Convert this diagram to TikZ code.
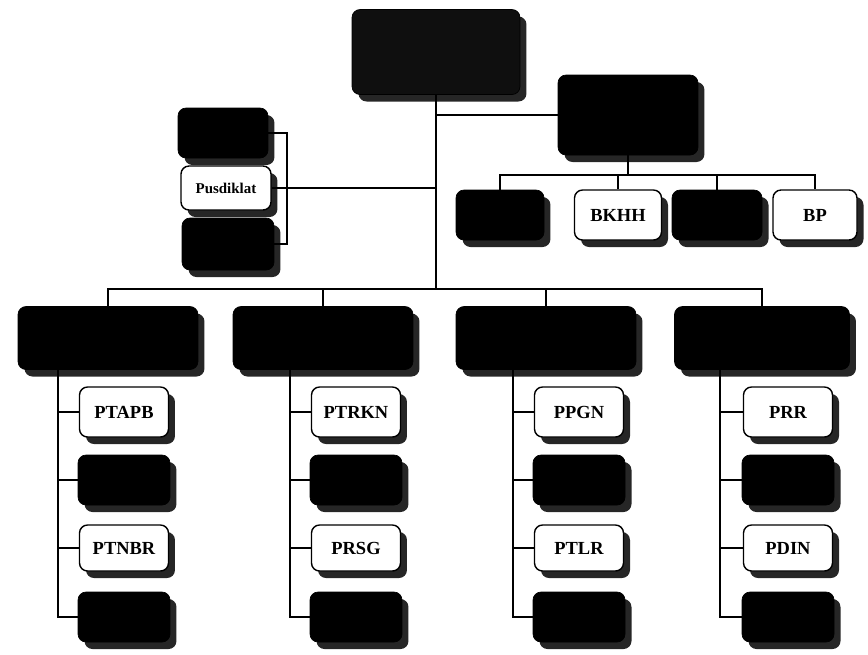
\documentclass[tikz,border=0pt]{standalone}
\usepackage{fontspec}
\setmainfont{Liberation Serif}
\usetikzlibrary{shadows}
\begin{document}
\begin{tikzpicture}[x=0.02cm,y=-0.02cm,
    every node/.style={font=\bfseries\fontsize{10.5}{12}\selectfont},
    darkbox/.style={draw=black,fill=black,rounded corners=0.16cm,inner sep=0pt,
      drop shadow={shadow xshift=0.13cm,shadow yshift=-0.14cm,fill=black!85,opacity=1}},
    lightbox/.style={darkbox,fill=white,line width=0.8pt},
    link/.style={line width=0.9pt}]
  \useasboundingbox (0,0) rectangle (868,654);
  % head and upper right board
  \node[darkbox,fill=black!94,minimum width=3.36cm,minimum height=1.7cm] (top) at (436,52) {};
  \node[darkbox,minimum width=2.8cm,minimum height=1.6cm] (rb) at (628,115) {};
  \node[darkbox,minimum width=1.76cm,minimum height=1cm] (rc1) at (500,215) {};
  \node[lightbox,minimum width=1.74cm,minimum height=1cm] (rc2) at (618,215) {BKHH};
  \node[darkbox,minimum width=1.8cm,minimum height=1cm] (rc3) at (717,215) {};
  \node[lightbox,minimum width=1.68cm,minimum height=1cm] (rc4) at (815,215) {BP};
  % left staff group
  \node[darkbox,minimum width=1.8cm,minimum height=1cm] (pk1) at (223,133) {};
  \node[lightbox,minimum width=1.8cm,minimum height=0.88cm,font=\bfseries\fontsize{8.5}{10}\selectfont] (pk2) at (226,188) {Pusdiklat};
  \node[darkbox,minimum width=1.84cm,minimum height=1.04cm] (pk3) at (228,244) {};
  % main groups
  \node[darkbox,minimum width=3.6cm,minimum height=1.26cm] (ga) at (108,338) {};
  \node[darkbox,minimum width=3.6cm,minimum height=1.26cm] (gb) at (323,338) {};
  \node[darkbox,minimum width=3.6cm,minimum height=1.26cm] (gc) at (546,338) {};
  \node[darkbox,minimum width=3.5cm,minimum height=1.26cm] (gd) at (762,338) {};

  \coordinate (bus) at (436,289);
  \draw[link] (top.south) -- (bus);
  \draw[link] (ga.north) |- (bus) -| (gd.north);
  \draw[link] (gb.north) -- (gb.north |- bus);
  \draw[link] (gc.north) -- (gc.north |- bus);

  \coordinate (rbus) at (628,175);
  \draw[link] (top.south |- rb.west) -- (rb.west);
  \draw[link] (rb.south) -- (rbus);
  \draw[link] (rc1.north) |- (rbus) -| (rc4.north);
  \draw[link] (rc2.north) -- (rc2.north |- rbus);
  \draw[link] (rc3.north) -- (rc3.north |- rbus);

  \coordinate (brk) at (287,244);
  \draw[link] (pk1.east) -| (brk) -- (pk3.east);
  \draw[link] (pk2.east) -- (top.south |- pk2.east);

  % units under each group
  \foreach \g/\cx/\bx/\ta/\tc in {a/58/124/PTAPB/PTNBR, b/290/356/PTRKN/PRSG,
      c/513/579/PPGN/PTLR, d/720/788/PRR/PDIN} {
    \node[lightbox,minimum width=1.78cm,minimum height=1cm] (\g1) at (\bx,412) {\ta};
    \node[darkbox,minimum width=1.84cm,minimum height=1cm] (\g2) at (\bx,480) {};
    \node[lightbox,minimum width=1.78cm,minimum height=0.92cm] (\g3) at (\bx,548) {\tc};
    \node[darkbox,minimum width=1.84cm,minimum height=1cm] (\g4) at (\bx,617) {};
    \coordinate (col\g) at (\cx,370);
    \draw[link] (col\g) |- (\g4.west);
    \foreach \k in {1,2,3}
      \draw[link] (col\g |- \g\k) -- (\g\k.west);
  }
\end{tikzpicture}
\end{document}
